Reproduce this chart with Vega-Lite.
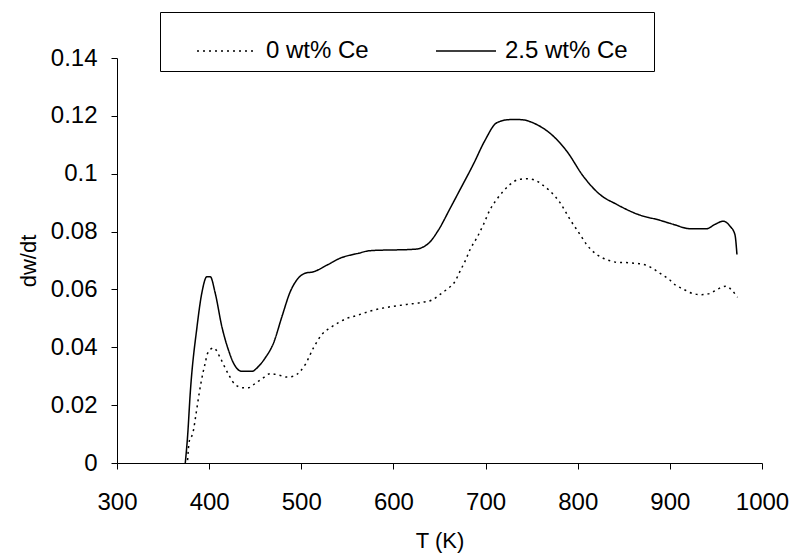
{
  "$schema": "https://vega.github.io/schema/vega-lite/v6.json",
  "width": 645,
  "height": 405,
  "autosize": {"type": "none"},
  "padding": {"left": 117, "top": 58, "right": 30, "bottom": 93},
  "background": "white",
  "config": {
    "view": {"stroke": null},
    "font": "Liberation Sans",
    "axis": {
      "grid": false,
      "domainColor": "black",
      "domainWidth": 1,
      "tickColor": "black",
      "tickWidth": 1,
      "tickSize": 6,
      "labelColor": "black",
      "titleColor": "black",
      "labelFont": "Liberation Sans",
      "titleFont": "Liberation Sans",
      "labelFontSize": 24,
      "titleFontSize": 22,
      "titleFontWeight": "normal"
    },
    "legend": {
      "labelFont": "Liberation Sans"
    }
  },
  "data": {
    "values": [
      {"T": 374.1, "v": 0.0, "s": "2.5 wt% Ce"},
      {"T": 376.6, "v": 0.0092, "s": "2.5 wt% Ce"},
      {"T": 379.5, "v": 0.0242, "s": "2.5 wt% Ce"},
      {"T": 386.8, "v": 0.047, "s": "2.5 wt% Ce"},
      {"T": 392.2, "v": 0.059, "s": "2.5 wt% Ce"},
      {"T": 397.6, "v": 0.0644, "s": "2.5 wt% Ce"},
      {"T": 401.2, "v": 0.0644, "s": "2.5 wt% Ce"},
      {"T": 406.6, "v": 0.0587, "s": "2.5 wt% Ce"},
      {"T": 413.9, "v": 0.047, "s": "2.5 wt% Ce"},
      {"T": 421.0, "v": 0.039, "s": "2.5 wt% Ce"},
      {"T": 426.5, "v": 0.0345, "s": "2.5 wt% Ce"},
      {"T": 435.6, "v": 0.0317, "s": "2.5 wt% Ce"},
      {"T": 446.4, "v": 0.0317, "s": "2.5 wt% Ce"},
      {"T": 453.6, "v": 0.0334, "s": "2.5 wt% Ce"},
      {"T": 460.8, "v": 0.0363, "s": "2.5 wt% Ce"},
      {"T": 469.8, "v": 0.0414, "s": "2.5 wt% Ce"},
      {"T": 479.0, "v": 0.0506, "s": "2.5 wt% Ce"},
      {"T": 488.0, "v": 0.0592, "s": "2.5 wt% Ce"},
      {"T": 495.2, "v": 0.0633, "s": "2.5 wt% Ce"},
      {"T": 504.2, "v": 0.0656, "s": "2.5 wt% Ce"},
      {"T": 513.2, "v": 0.0661, "s": "2.5 wt% Ce"},
      {"T": 527.8, "v": 0.0684, "s": "2.5 wt% Ce"},
      {"T": 542.2, "v": 0.0708, "s": "2.5 wt% Ce"},
      {"T": 562.0, "v": 0.0725, "s": "2.5 wt% Ce"},
      {"T": 574.7, "v": 0.0734, "s": "2.5 wt% Ce"},
      {"T": 623.5, "v": 0.0739, "s": "2.5 wt% Ce"},
      {"T": 638.0, "v": 0.0759, "s": "2.5 wt% Ce"},
      {"T": 648.8, "v": 0.0805, "s": "2.5 wt% Ce"},
      {"T": 661.5, "v": 0.088, "s": "2.5 wt% Ce"},
      {"T": 672.3, "v": 0.0945, "s": "2.5 wt% Ce"},
      {"T": 686.8, "v": 0.1033, "s": "2.5 wt% Ce"},
      {"T": 699.5, "v": 0.1116, "s": "2.5 wt% Ce"},
      {"T": 712.1, "v": 0.1176, "s": "2.5 wt% Ce"},
      {"T": 726.6, "v": 0.1187, "s": "2.5 wt% Ce"},
      {"T": 737.4, "v": 0.1187, "s": "2.5 wt% Ce"},
      {"T": 755.5, "v": 0.117, "s": "2.5 wt% Ce"},
      {"T": 773.5, "v": 0.113, "s": "2.5 wt% Ce"},
      {"T": 788.1, "v": 0.1078, "s": "2.5 wt% Ce"},
      {"T": 806.1, "v": 0.0991, "s": "2.5 wt% Ce"},
      {"T": 824.2, "v": 0.0928, "s": "2.5 wt% Ce"},
      {"T": 842.3, "v": 0.0894, "s": "2.5 wt% Ce"},
      {"T": 865.7, "v": 0.0859, "s": "2.5 wt% Ce"},
      {"T": 889.2, "v": 0.0839, "s": "2.5 wt% Ce"},
      {"T": 903.7, "v": 0.0825, "s": "2.5 wt% Ce"},
      {"T": 921.9, "v": 0.081, "s": "2.5 wt% Ce"},
      {"T": 939.9, "v": 0.081, "s": "2.5 wt% Ce"},
      {"T": 949.0, "v": 0.0825, "s": "2.5 wt% Ce"},
      {"T": 958.0, "v": 0.0836, "s": "2.5 wt% Ce"},
      {"T": 965.2, "v": 0.0819, "s": "2.5 wt% Ce"},
      {"T": 970.6, "v": 0.079, "s": "2.5 wt% Ce"},
      {"T": 972.8, "v": 0.0721, "s": "2.5 wt% Ce"},
      {"T": 376.6, "v": 0.001, "s": "0 wt% Ce"},
      {"T": 378.4, "v": 0.0075, "s": "0 wt% Ce"},
      {"T": 382.4, "v": 0.0104, "s": "0 wt% Ce"},
      {"T": 386.0, "v": 0.0174, "s": "0 wt% Ce"},
      {"T": 389.0, "v": 0.0237, "s": "0 wt% Ce"},
      {"T": 393.3, "v": 0.0312, "s": "0 wt% Ce"},
      {"T": 395.8, "v": 0.0346, "s": "0 wt% Ce"},
      {"T": 398.3, "v": 0.0379, "s": "0 wt% Ce"},
      {"T": 404.8, "v": 0.0398, "s": "0 wt% Ce"},
      {"T": 412.0, "v": 0.0364, "s": "0 wt% Ce"},
      {"T": 416.7, "v": 0.0333, "s": "0 wt% Ce"},
      {"T": 422.1, "v": 0.03, "s": "0 wt% Ce"},
      {"T": 428.3, "v": 0.0271, "s": "0 wt% Ce"},
      {"T": 437.3, "v": 0.026, "s": "0 wt% Ce"},
      {"T": 442.7, "v": 0.026, "s": "0 wt% Ce"},
      {"T": 450.0, "v": 0.0275, "s": "0 wt% Ce"},
      {"T": 459.0, "v": 0.0295, "s": "0 wt% Ce"},
      {"T": 466.3, "v": 0.0309, "s": "0 wt% Ce"},
      {"T": 475.3, "v": 0.0304, "s": "0 wt% Ce"},
      {"T": 484.4, "v": 0.0297, "s": "0 wt% Ce"},
      {"T": 491.5, "v": 0.03, "s": "0 wt% Ce"},
      {"T": 498.8, "v": 0.0317, "s": "0 wt% Ce"},
      {"T": 504.2, "v": 0.034, "s": "0 wt% Ce"},
      {"T": 513.2, "v": 0.0398, "s": "0 wt% Ce"},
      {"T": 522.3, "v": 0.0444, "s": "0 wt% Ce"},
      {"T": 531.3, "v": 0.0467, "s": "0 wt% Ce"},
      {"T": 540.3, "v": 0.0485, "s": "0 wt% Ce"},
      {"T": 549.5, "v": 0.05, "s": "0 wt% Ce"},
      {"T": 560.3, "v": 0.051, "s": "0 wt% Ce"},
      {"T": 574.7, "v": 0.0525, "s": "0 wt% Ce"},
      {"T": 596.4, "v": 0.054, "s": "0 wt% Ce"},
      {"T": 614.5, "v": 0.0548, "s": "0 wt% Ce"},
      {"T": 632.5, "v": 0.0556, "s": "0 wt% Ce"},
      {"T": 641.6, "v": 0.0563, "s": "0 wt% Ce"},
      {"T": 650.7, "v": 0.0583, "s": "0 wt% Ce"},
      {"T": 657.9, "v": 0.06, "s": "0 wt% Ce"},
      {"T": 666.9, "v": 0.0628, "s": "0 wt% Ce"},
      {"T": 672.3, "v": 0.0663, "s": "0 wt% Ce"},
      {"T": 677.8, "v": 0.0698, "s": "0 wt% Ce"},
      {"T": 683.2, "v": 0.0738, "s": "0 wt% Ce"},
      {"T": 690.5, "v": 0.0778, "s": "0 wt% Ce"},
      {"T": 697.6, "v": 0.0824, "s": "0 wt% Ce"},
      {"T": 704.9, "v": 0.0876, "s": "0 wt% Ce"},
      {"T": 712.1, "v": 0.0911, "s": "0 wt% Ce"},
      {"T": 719.3, "v": 0.094, "s": "0 wt% Ce"},
      {"T": 726.6, "v": 0.0963, "s": "0 wt% Ce"},
      {"T": 735.6, "v": 0.098, "s": "0 wt% Ce"},
      {"T": 744.7, "v": 0.0983, "s": "0 wt% Ce"},
      {"T": 753.7, "v": 0.0978, "s": "0 wt% Ce"},
      {"T": 761.0, "v": 0.0963, "s": "0 wt% Ce"},
      {"T": 770.0, "v": 0.094, "s": "0 wt% Ce"},
      {"T": 780.8, "v": 0.09, "s": "0 wt% Ce"},
      {"T": 791.6, "v": 0.0842, "s": "0 wt% Ce"},
      {"T": 802.5, "v": 0.079, "s": "0 wt% Ce"},
      {"T": 809.7, "v": 0.0755, "s": "0 wt% Ce"},
      {"T": 820.6, "v": 0.0721, "s": "0 wt% Ce"},
      {"T": 831.4, "v": 0.0703, "s": "0 wt% Ce"},
      {"T": 842.3, "v": 0.0694, "s": "0 wt% Ce"},
      {"T": 856.7, "v": 0.0692, "s": "0 wt% Ce"},
      {"T": 874.0, "v": 0.0684, "s": "0 wt% Ce"},
      {"T": 882.0, "v": 0.0671, "s": "0 wt% Ce"},
      {"T": 891.1, "v": 0.0652, "s": "0 wt% Ce"},
      {"T": 898.3, "v": 0.0637, "s": "0 wt% Ce"},
      {"T": 906.6, "v": 0.0614, "s": "0 wt% Ce"},
      {"T": 913.9, "v": 0.0602, "s": "0 wt% Ce"},
      {"T": 924.7, "v": 0.0586, "s": "0 wt% Ce"},
      {"T": 934.5, "v": 0.0582, "s": "0 wt% Ce"},
      {"T": 943.5, "v": 0.0586, "s": "0 wt% Ce"},
      {"T": 952.5, "v": 0.0602, "s": "0 wt% Ce"},
      {"T": 960.8, "v": 0.0611, "s": "0 wt% Ce"},
      {"T": 968.1, "v": 0.0594, "s": "0 wt% Ce"},
      {"T": 973.5, "v": 0.0573, "s": "0 wt% Ce"}
    ]
  },
  "mark": {"type": "line", "color": "black", "strokeWidth": 1.5, "interpolate": "monotone"},
  "encoding": {
    "x": {
      "field": "T",
      "type": "quantitative",
      "scale": {"domain": [300, 1000], "nice": false, "zero": false},
      "axis": {
        "values": [300, 400, 500, 600, 700, 800, 900, 1000],
        "format": "d",
        "title": "T (K)",
        "labelPadding": 21,
        "titlePadding": 16,
        "labelFlush": false,
        "labelOverlap": false
      }
    },
    "y": {
      "field": "v",
      "type": "quantitative",
      "scale": {"domain": [0, 0.14], "nice": false},
      "axis": {
        "values": [0, 0.02, 0.04, 0.06, 0.08, 0.1, 0.12, 0.14],
        "format": "~g",
        "title": "dw/dt",
        "labelPadding": 14,
        "titlePadding": 10,
        "labelFlush": false,
        "labelOverlap": false
      }
    },
    "strokeDash": {
      "field": "s",
      "type": "nominal",
      "scale": {"domain": ["0 wt% Ce", "2.5 wt% Ce"], "range": [[2, 4], [1, 0]]},
      "legend": {
        "title": ".",
        "titleOrient": "right",
        "titleColor": "white",
        "titleFontSize": 10,
        "titlePadding": 15,
        "orient": "none",
        "legendX": 43,
        "legendY": -46,
        "direction": "horizontal",
        "columns": 2,
        "padding": 8,
        "strokeColor": "black",
        "fillColor": "white",
        "symbolType": "stroke",
        "symbolSize": 3600,
        "symbolStrokeWidth": 1.5,
        "symbolStrokeColor": "black",
        "symbolOffset": 28,
        "labelOffset": 8,
        "labelFontSize": 24,
        "labelColor": "black",
        "labelLimit": 300,
        "columnPadding": 38
      }
    }
  }
}
